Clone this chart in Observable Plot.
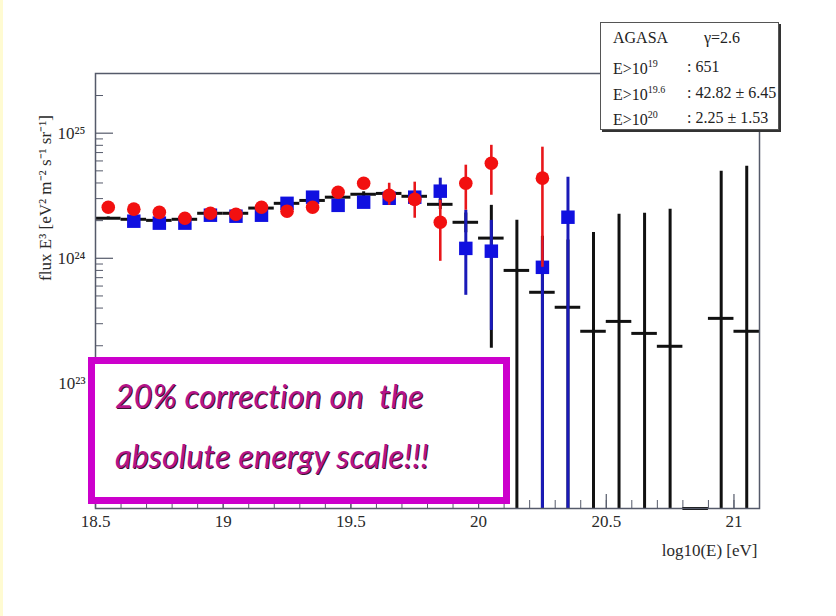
<!DOCTYPE html>
<html>
<head>
<meta charset="utf-8">
<script src="https://cdn.jsdelivr.net/npm/d3@7"></script>
<script src="https://cdn.jsdelivr.net/npm/@observablehq/plot@0.6"></script>
<style>
  body { margin: 0; background: #fff; }
  #wrap { position: relative; width: 836px; height: 616px; overflow: hidden; background: #fff; }
  #strip { position: absolute; left: 0; top: 0; width: 3px; height: 616px; background: #fffbd2; }
  #stats { position: absolute; left: 600px; top: 22px; width: 177px; height: 106px; background: #fff;
           border: 1.5px solid #555; box-shadow: 2px 2px 0 #333;
           font-family: "Liberation Serif", serif; font-size: 16px; color: #222; }
  #stats .ln { position: absolute; left: 12px; white-space: nowrap; }
  #stats .v { position: absolute; left: 86px; white-space: nowrap; }
  #stats sup { font-size: 10px; vertical-align: 7px; }
  #note { position: absolute; left: 88px; top: 357px; width: 408px; height: 133px; background: #fff;
          border: 7px solid #cc00cc; }
  #note div { position: absolute; left: 20px; white-space: nowrap;
              font-family: Lato, sans-serif; font-style: italic; font-size: 32px; color: #b5148a;
              text-shadow: 1px 1px 0 #3a1030; letter-spacing: 0.3px; }
  #chart svg text { font-family: "Liberation Serif", "Times New Roman", serif; }
</style>
</head>
<body>
<div id="wrap">
  <div id="chart"></div>
  <div id="strip"></div>
  <div id="stats"></div>
  <div id="note"></div>
</div>
<script>
// ---------- data ----------
// AGASA (black): bin centres in log10(E/eV), flux*E^3 in eV^2 m^-2 s^-1 sr^-1, error ends (0 = below axis)
const agasaE = [18.55, 18.65, 18.75, 18.85, 18.95, 19.05, 19.15, 19.25, 19.35, 19.45, 19.55, 19.65, 19.75,
                19.85, 19.95, 20.05, 20.15, 20.25, 20.35, 20.45, 20.55, 20.65, 20.75, 20.85, 20.95, 21.05];
const agasaFlux = [2.09e24, 2.05e24, 2.01e24, 2.05e24, 2.29e24, 2.29e24, 2.52e24, 2.75e24, 2.9e24, 3.08e24, 3.25e24, 3.3e24, 3.13e24,
                   2.7e24, 1.94e24, 1.45e24, 8.0e23, 5.35e23, 4.06e23, 2.61e23, 3.13e23, 2.51e23, 1.98e23, 0, 3.31e23, 2.61e23];
const agasaHi = [2.14e24, 2.1e24, 2.06e24, 2.1e24, 2.35e24, 2.35e24, 2.6e24, 2.84e24, 3.0e24, 3.2e24, 3.4e24, 3.48e24, 3.35e24,
                 2.95e24, 2.3e24, 2.65e24, 2.01e24, 1.5e24, 1.4e24, 1.61e24, 2.25e24, 2.29e24, 2.47e24, null, 4.97e24, 5.45e24];
const agasaLo = [2.04e24, 2.0e24, 1.96e24, 2.0e24, 2.23e24, 2.23e24, 2.44e24, 2.66e24, 2.8e24, 2.96e24, 3.1e24, 3.12e24, 2.9e24,
                 2.45e24, 1.6e24, 1.91e23, 0, 0, 0, 0, 0, 0, 0, null, 0, 0];

// red circles
const redE = [18.55, 18.65, 18.75, 18.85, 18.95, 19.05, 19.15, 19.25, 19.35, 19.45, 19.55, 19.65, 19.75, 19.85, 19.95, 20.05, 20.25];
const redFlux = [2.56e24, 2.47e24, 2.33e24, 2.09e24, 2.29e24, 2.25e24, 2.56e24, 2.38e24, 2.56e24, 3.37e24, 3.98e24, 3.19e24, 2.96e24,
                 1.94e24, 3.98e24, 5.75e24, 4.37e24];
const redHi = [2.62e24, 2.53e24, 2.39e24, 2.15e24, 2.35e24, 2.31e24, 2.63e24, 2.45e24, 2.64e24, 3.5e24, 4.2e24, 3.98e24, 4.06e24,
               2.91e24, 5.55e24, 8.0e24, 7.73e24];
const redLo = [2.5e24, 2.41e24, 2.27e24, 2.03e24, 2.23e24, 2.19e24, 2.49e24, 2.31e24, 2.48e24, 3.24e24, 3.78e24, 2.65e24, 2.09e24,
               9.46e23, 2.42e24, 3.19e24, 8.47e23];

// blue squares
const blueE = [18.65, 18.75, 18.85, 18.95, 19.05, 19.15, 19.25, 19.35, 19.45, 19.55, 19.65, 19.75, 19.85, 19.95, 20.05, 20.25, 20.35];
const blueFlux = [1.98e24, 1.91e24, 1.91e24, 2.21e24, 2.17e24, 2.21e24, 2.75e24, 3.08e24, 2.65e24, 2.81e24, 3.02e24, 3.08e24,
                  3.44e24, 1.2e24, 1.14e24, 8.47e23, 2.13e24];
const blueHi = [2.03e24, 1.96e24, 1.96e24, 2.27e24, 2.23e24, 2.27e24, 2.84e24, 3.19e24, 2.76e24, 2.95e24, 3.2e24, 3.3e24,
                4.37e24, 2.42e24, 2.01e24, 1.39e24, 4.45e24];
const blueLo = [1.93e24, 1.86e24, 1.86e24, 2.15e24, 2.11e24, 2.15e24, 2.66e24, 2.97e24, 2.54e24, 2.67e24, 2.85e24, 2.86e24,
                2.65e24, 5.06e23, 2.65e23, 0, 0];

// axes
const xDomain = [18.5, 21.1];
const yDomain = [1e22, 3e25];
const xTickLabels = [18.5, 19, 19.5, 20, 20.5, 21];
const yTickLabels = [1e23, 1e24, 1e25];
const binHalf = 0.05;

const statsLines = [
  ["AGASA", "γ=2.6", true],
  ["E>10", "19", ": 651"],
  ["E>10", "19.6", ": 42.82 ± 6.45"],
  ["E>10", "20", ": 2.25 ± 1.53"]
];
const noteLines = ["20% correction on\u00a0\u00a0the", "absolute energy scale!!!"];

// ---------- build ----------
const floor = yDomain[0];
const rows = (E, F, H, L) => E.map((e, i) => ({e, f: F[i], hi: H[i], lo: L[i]}));
const black = rows(agasaE, agasaFlux, agasaHi, agasaLo);
const red = rows(redE, redFlux, redHi, redLo);
const blue = rows(blueE, blueFlux, blueHi, blueLo);
const clampLow = v => Math.max(v, floor);

const W = 836, H = 616, mL = 95, mR = 77, mT = 73, mB = 108;
const plotW = W - mL - mR, plotH = H - mT - mB;

const xMinor = d3.range(185, 211).map(k => k / 10);
const yMinor = [];
for (let k = 22; k <= 25; k++) for (let m = 2; m <= 9; m++) if (m * 10 ** k < yDomain[1]) yMinor.push(m * 10 ** k);
const supDigits = {"0":"⁰","1":"¹","2":"²","3":"³","4":"⁴","5":"⁵","6":"⁶","7":"⁷","8":"⁸","9":"⁹","-":"⁻"};
const sup = s => String(s).split("").map(c => supDigits[c] ?? c).join("");

const axisColor = "#555a6a";
const serif = "Liberation Serif, Times New Roman, serif";

const chart = Plot.plot({
  width: W, height: H,
  marginLeft: mL, marginRight: mR, marginTop: mT, marginBottom: mB,
  style: {fontFamily: serif, background: "transparent", color: "#2a2a2a"},
  x: {domain: xDomain},
  y: {type: "log", domain: yDomain},
  marks: [
    Plot.tickX(xMinor, {x: d => d, insetTop: plotH - 8, stroke: axisColor, strokeWidth: 1}),
    Plot.tickX(xTickLabels, {x: d => d, insetTop: plotH - 14, stroke: axisColor, strokeWidth: 1.2}),
    Plot.tickY(yMinor, {y: d => d, insetRight: plotW - 8, stroke: axisColor, strokeWidth: 1}),
    Plot.tickY(yTickLabels, {y: d => d, insetRight: plotW - 18, stroke: axisColor, strokeWidth: 1.2}),
    Plot.axisX(xTickLabels, {tickSize: 0, tickPadding: 6, fontSize: 17, label: null, tickFormat: d => String(d)}),
    Plot.axisY(yTickLabels, {tickSize: 0, tickPadding: 10, fontSize: 17, label: null,
      tickFormat: d => "10" + sup(Math.round(Math.log10(d)))}),
    Plot.text(["flux E³ [eV² m⁻² s⁻¹ sr⁻¹]"], {frameAnchor: "left", textAnchor: "middle", dx: -50, dy: -93, rotate: -90, fontSize: 17}),
    Plot.text(["log10(E) [eV]"], {frameAnchor: "bottom-right", dx: -2, dy: 47, textAnchor: "end", lineAnchor: "bottom", fontSize: 17}),
    // AGASA black crosses
    Plot.ruleX(black.filter(d => d.hi != null), {x: "e", y1: d => clampLow(d.lo), y2: "hi", stroke: "#111", strokeWidth: 3}),
    Plot.ruleY(black, {y: d => clampLow(d.f), x1: d => d.e - binHalf, x2: d => d.e + binHalf, stroke: "#111", strokeWidth: 3}),
    // blue squares
    Plot.ruleX(blue, {x: "e", y1: d => clampLow(d.lo), y2: "hi", stroke: "#1a1ab8", strokeWidth: 3}),
    Plot.dot(blue, {x: "e", y: "f", symbol: "square", r: 7.6, fill: "#1010e0", stroke: "none"}),
    // red circles
    Plot.ruleX(red, {x: "e", y1: d => clampLow(d.lo), y2: "hi", stroke: "#e8161a", strokeWidth: 2.6}),
    Plot.dot(red, {x: "e", y: "f", r: 6.8, fill: "#f21010", stroke: "none"}),
    Plot.frame({stroke: axisColor, strokeWidth: 1.5})
  ]
});
document.getElementById("chart").append(chart);

// stats box
const stats = document.getElementById("stats");
const tops = [6, 35, 61, 86];
statsLines.forEach((l, i) => {
  const a = document.createElement("div");
  a.className = "ln"; a.style.top = tops[i] + "px";
  const b = document.createElement("div");
  b.className = "v"; b.style.top = tops[i] + "px";
  if (l[2] === true) { a.textContent = l[0]; b.textContent = l[1]; b.style.left = "103px"; }
  else { a.innerHTML = l[0].replace(">", "&gt;") + "<sup>" + l[1] + "</sup>"; b.textContent = l[2]; }
  stats.append(a, b);
});

// annotation
const note = document.getElementById("note");
[12, 72].forEach((t, i) => {
  const d = document.createElement("div");
  d.style.top = t + "px"; d.textContent = noteLines[i];
  note.append(d);
});
</script>
</body>
</html>
